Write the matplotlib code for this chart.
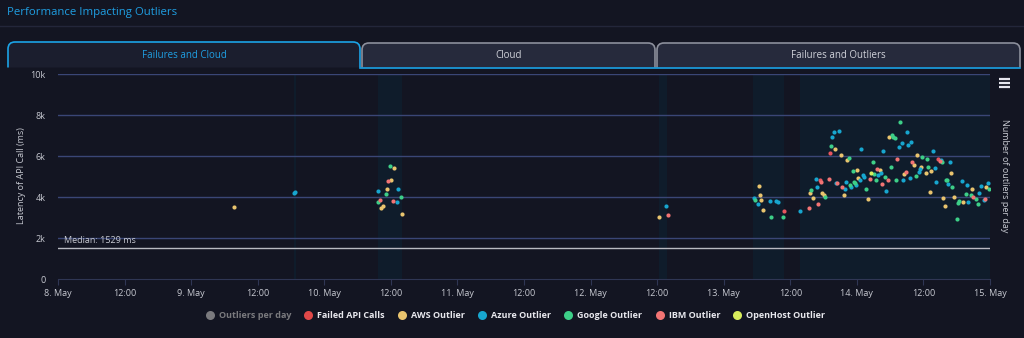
import matplotlib.pyplot as plt
import matplotlib.patches as mpatches
from matplotlib.path import Path
from matplotlib.lines import Line2D

plt.rcParams['font.family'] = ['Open Sans', 'DejaVu Sans']

# hours since 8 May 00:00, latency in ms
failed_h = [130.9, 137.3, 139.1, 158.6]
failed_v = [3330, 4840, 6150, 5840]

aws_h = [31.8, 60.58, 60.1, 59.3, 58.2, 58.6, 62.0, 108.4,
         126.3, 126.6, 126.8, 127.1, 135.6, 136.1, 137.8, 138.1, 140.1, 141.1, 141.6,
         142.3, 144.0, 144.2, 146.0, 148.1, 149.8, 152.5, 154.3, 154.9, 155.6, 156.4,
         157.3, 157.1, 159.6, 159.8, 161.0, 161.5, 163.1, 164.8, 167.3]
aws_v = [3520, 5410, 4850, 4410, 3490, 3590, 3200, 3050,
         4540, 4120, 3860, 3360, 4220, 3950, 4220, 4090, 6350, 6050, 4090,
         5810, 5320, 4950, 3910, 5320, 6950, 5130, 5550, 6040, 5460, 5190,
         5260, 4250, 3950, 3560, 5190, 4020, 3750, 4410, 4500]

azure_h = [42.6, 42.8, 57.7, 61.3, 61.1, 109.6,
           125.4, 126.1, 128.3, 129.5, 129.8, 133.8, 136.8, 136.6, 139.6, 139.9, 140.8,
           140.3, 141.9, 142.1, 143.0, 143.9, 144.5, 144.8, 145.1, 145.3, 147.8, 148.3,
           149.3, 148.8, 151.6, 152.1, 152.3, 153.0, 153.3, 153.7, 153.6, 155.2, 155.4,
           157.8, 158.1, 158.3, 159.1, 160.5, 160.8, 162.9, 163.8, 164.1, 166.0, 166.3,
           166.9, 167.6]
azure_v = [4180, 4250, 4320, 4400, 3780, 3560,
           3950, 3680, 3830, 3830, 3780, 3330, 4480, 4870, 6920, 7170, 7210,
           4690, 4410, 4750, 4480, 4580, 4840, 6350, 5080, 5000, 5070, 5160,
           4290, 6260, 6440, 6640, 4850, 7170, 6560, 6690, 4950, 5230, 5360,
           6250, 5420, 4750, 5830, 4660, 5710, 4800, 4610, 3780, 4190, 4530,
           3860, 4690]

google_h = [59.86, 59.1, 61.8, 57.6,
            125.6, 128.6, 130.6, 135.8, 138.3, 139.4, 142.6, 142.8, 143.3, 143.5, 143.7,
            145.7, 146.9, 147.1, 147.4, 149.1, 150.3, 150.6, 150.8, 150.1, 151.0, 151.8,
            154.6, 155.8, 156.6, 156.9, 159.3, 160.1, 160.3, 161.2, 162.0, 162.3, 162.5,
            163.6, 164.6, 165.4, 165.8, 167.8]
google_v = [5520, 4150, 4020, 3780,
            3880, 3050, 3050, 4340, 3990, 6510, 5890, 4590, 5270, 4720, 4690,
            4400, 5710, 5110, 4840, 4970, 7010, 6950, 6900, 5480, 4840, 7680,
            5020, 5960, 5870, 5460, 5710, 4820, 4850, 4480, 2950, 3730, 3830,
            4160, 4090, 3910, 3680, 4380]

ibm_h = [59.56, 58.0, 60.3, 109.9, 135.3, 137.0, 137.6, 138.9, 140.5, 141.4,
         146.3, 147.6, 148.6, 149.6, 151.3, 152.8, 154.0, 158.9, 165.0, 167.1]
ibm_v = [4790, 3860, 3810, 3120, 3490, 3650, 4720, 4890, 4690, 4510,
         4890, 5360, 4640, 4840, 5840, 5210, 5710, 5760, 3990, 3900]

openhost_h = [146.6]
openhost_v = [5190]

# highlighted periods (hours since 8 May)
bands = [(42.5, 42.9), (57.6, 62.0), (108.3, 109.8), (125.3, 130.8), (133.8, 168.0)]
median_ms = 1529

tick_labels = ['8. May', '12:00', '9. May', '12:00', '10. May', '12:00', '11. May', '12:00',
               '12. May', '12:00', '13. May', '12:00', '14. May', '12:00', '15. May']

bg = '#131522'
fig = plt.figure(figsize=(10.24, 3.38), dpi=100, facecolor=bg)

# overlay in pixel coordinates for the page furniture
deco = fig.add_axes([0, 0, 1, 1])
deco.set_xlim(0, 1024)
deco.set_ylim(338, 0)
deco.axis('off')
deco.text(7, 13, 'Performance Impacting Outliers', color='#1f9fe3', fontsize=8.2,
          va='center', ha='left', weight='medium')
deco.plot([0, 1024], [25.5, 25.5], color='#23263a', lw=1)


def tab(x0, x1, y0, y1, r, face, edge):
    verts = [(x0, y1), (x0, y0 + r), (x0, y0), (x0 + r, y0), (x1 - r, y0), (x1, y0),
             (x1, y0 + r), (x1, y1)]
    codes = [Path.MOVETO, Path.LINETO, Path.CURVE3, Path.CURVE3, Path.LINETO, Path.CURVE3,
             Path.CURVE3, Path.LINETO]
    deco.add_patch(mpatches.PathPatch(Path(verts, codes), facecolor=face, edgecolor=edge, lw=1.2))


tab(362, 655, 43, 67.5, 7, '#262a3c', '#8c8f9c')
tab(657, 1020, 43, 67.5, 7, '#262a3c', '#8c8f9c')
deco.plot([360, 1020], [67.5, 67.5], color='#1ba3e6', lw=1.2)
tab(8, 360, 42, 67.5, 7, '#1b1e2e', '#1ba3e6')
deco.text(184, 56, 'Failures and Cloud', color='#1f9fe3', fontsize=7.0, ha='center', va='center')
deco.text(509, 56, 'Cloud', color='#d0d2da', fontsize=7.0, ha='center', va='center')
deco.text(838, 56, 'Failures and Outliers', color='#d0d2da', fontsize=7.0, ha='center', va='center')
for yy in (79, 83, 87):
    deco.plot([999, 1010], [yy, yy], color='#e6e6ee', lw=1.6, solid_capstyle='butt')
deco.text(22, 176, 'Latency of API Call (ms)', color='#c8cad2', fontsize=6.5, rotation=90,
          ha='center', va='center')
deco.text(1004, 176, 'Number of outliers per day', color='#c8cad2', fontsize=6.5, rotation=-90,
          ha='center', va='center')

ax = fig.add_axes([58 / 1024, 1 - 279.3 / 338, 932 / 1024, 205.3 / 338])
ax.set_facecolor(bg)
ax.set_xlim(0, 7)
ax.set_ylim(0, 10000)

for a, b in bands:
    ax.axvspan(a / 24, b / 24, color='#0f1c2b', lw=0, zorder=0)

for v in range(2000, 10001, 2000):
    ax.axhline(v, color='#3a4676', lw=1, zorder=1)
ax.axhline(median_ms, color='#b8bac2', lw=1, zorder=2)
ax.text(0.045, median_ms + 120, f'Median: {median_ms} ms', color='#c8cad2', fontsize=6.5,
        ha='left', va='bottom')

series = [
    (failed_h, failed_v, '#e8555e'),
    (aws_h, aws_v, '#e9c46e'),
    (azure_h, azure_v, '#17a6cf'),
    (google_h, google_v, '#3dcf88'),
    (ibm_h, ibm_v, '#f27474'),
    (openhost_h, openhost_v, '#d8ec5c'),
]
for hs, vs, c in series:
    ax.scatter([h / 24 for h in hs], vs, s=9, color=c, lw=0, zorder=3)

ax.set_xticks([i * 0.5 for i in range(15)])
ax.set_xticklabels(tick_labels)
ax.set_yticks(range(0, 10001, 2000))
ax.set_yticklabels(['0', '2k', '4k', '6k', '8k', '10k'])
ax.tick_params(axis='x', colors='#2f3654', labelcolor='#c8cad2', labelsize=6.5, length=4, pad=3)
ax.tick_params(axis='y', length=0, labelcolor='#c8cad2', labelsize=6.5, pad=9)
for side in ('top', 'right', 'left'):
    ax.spines[side].set_visible(False)
ax.spines['bottom'].set_color('#2f3654')

names = ['Outliers per day', 'Failed API Calls', 'AWS Outlier', 'Azure Outlier',
         'Google Outlier', 'IBM Outlier', 'OpenHost Outlier']
colors = ['#7a7a7e', '#e04848', '#e9c46e', '#17a6cf', '#3dcf88', '#f27474', '#d8ec5c']
handles = [Line2D([], [], ls='', marker='o', ms=6.5, color=c, mec='none') for c in colors]
leg = fig.legend(handles, names, loc='center', bbox_to_anchor=(513 / 1024, 1 - 316 / 338),
                 ncol=7, frameon=False, handletextpad=0.0, columnspacing=0.9,
                 prop={'size': 6.5, 'weight': 'bold'})
for i, t in enumerate(leg.get_texts()):
    t.set_color('#7a7a7e' if i == 0 else '#e8e8ee')

fig.savefig('out.png', dpi=100, facecolor=bg)
